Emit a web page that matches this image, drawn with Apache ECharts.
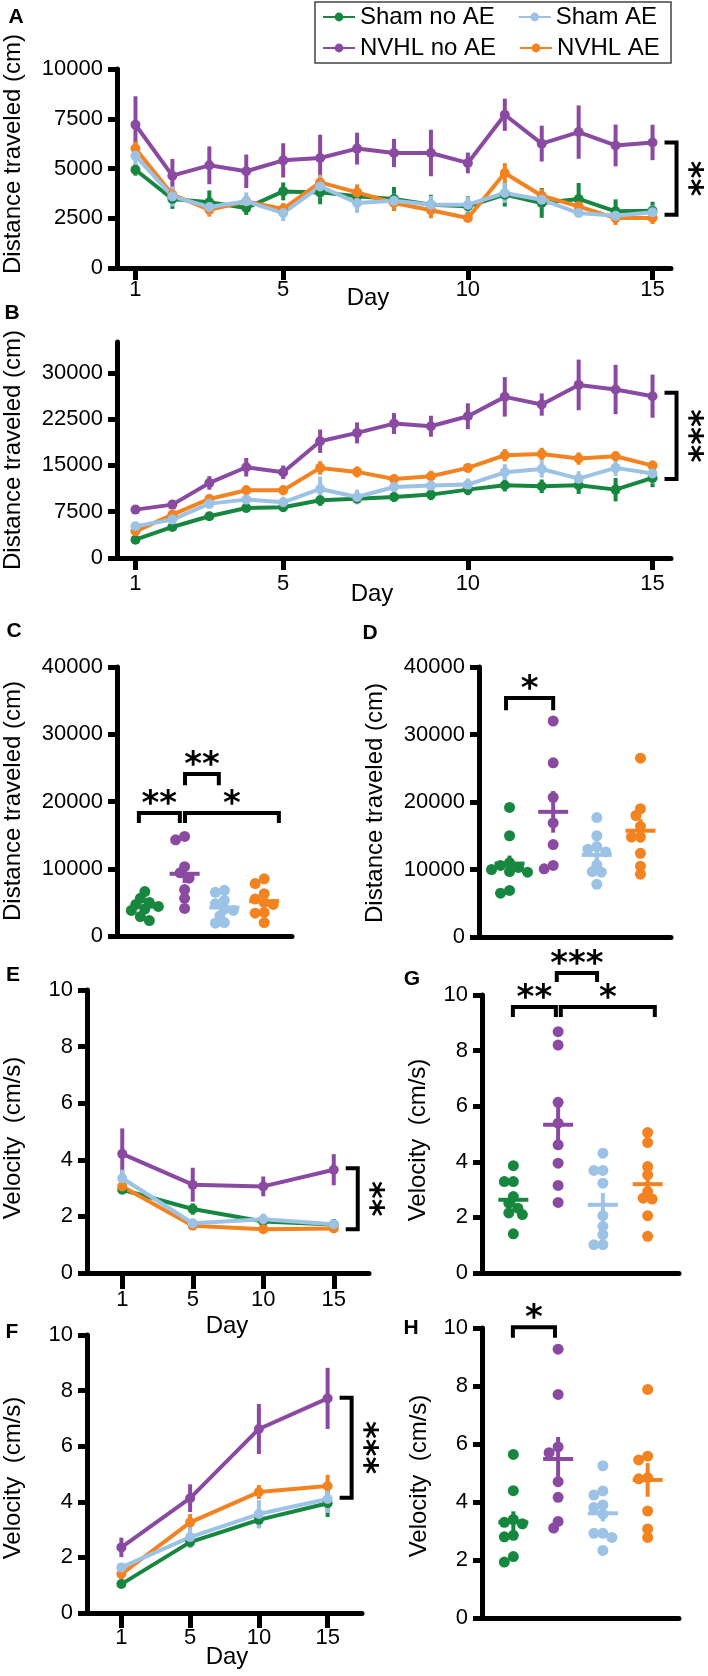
<!DOCTYPE html>
<html><head><meta charset="utf-8">
<script src="https://cdn.jsdelivr.net/npm/echarts@6/dist/echarts.min.js"></script>
<style>html,body{margin:0;padding:0;background:#fff}#c{width:708px;height:1676px}</style>
</head><body><div id="c"></div>
<script>
// ---------------- DATA ----------------
const groupNames = ['Sham no AE', 'NVHL no AE', 'Sham AE', 'NVHL AE'];
const days15 = ['1','2','3','4','5','6','7','8','9','10','11','12','13','14','15'];
const days4 = ['1','5','10','15'];
const dayTicks15 = ['1','5','10','15'];
const ticksB = [0, 7500, 15000, 22500, 30000];

// Panel A: distance per day (cm), mean and SEM
const aShamNoAE    = [4940,3470,3300,3015,3850,3800,3600,3470,3180,3100,3685,3270,3470,2850,2880];
const aShamNoAEErr = [300,500,600,350,450,600,500,600,500,500,600,750,800,600,450];
const aNvhlNoAE    = [7200,4640,5160,4860,5410,5530,6000,5780,5780,5280,7700,6250,6830,6160,6310];
const aNvhlNoAEErr = [1430,840,950,840,860,1170,800,710,1170,520,810,900,1340,1050,890];
const aShamAE      = [5640,3600,3065,3350,2760,4100,3270,3380,3180,3180,3770,3430,2760,2630,2800];
const aShamAEErr   = [600,500,400,450,400,550,500,350,450,400,500,400,200,250,350];
const aNvhlAE      = [6000,3685,2930,3350,2965,4300,3800,3270,2900,2510,4770,3630,3100,2510,2510];
const aNvhlAEErr   = [350,300,350,300,300,400,400,400,400,200,500,350,350,350,300];

// Panel B: cumulative distance (cm)
const bShamNoAE    = [2970,5030,6760,8110,8220,9350,9620,9890,10270,11080,11780,11620,11780,11080,12970];
const bShamNoAEErr = [500,500,600,700,700,900,800,800,900,900,1000,1100,1400,1900,1500];
const bNvhlNoAE    = [7840,8650,12160,14700,13890,18920,20270,21780,21350,22970,26110,24860,28050,27300,26220];
const bNvhlNoAEErr = [600,700,1100,1500,1100,1900,1700,1700,1700,2100,3200,1800,4100,4000,3500];
const bShamAE      = [5140,6220,8810,9460,9030,11190,9890,11510,11730,11890,13890,14430,12860,14600,13680];
const bShamAEErr   = [500,600,800,900,900,2000,1200,1100,1200,1000,1300,1400,1200,1300,1600];
const bNvhlAE      = [4320,7030,9570,10970,10970,14600,13950,12810,13240,14600,16650,16860,16110,16490,14970];
const bNvhlAEErr   = [600,600,700,800,800,1100,900,700,900,700,1000,1000,1000,800,800];

// Panel C: individual distance (cm)
const cShamNoAE = [6600,5600,5000,4700,4400,4000,3800,2900,2300];
const cNvhlNoAE = [14800,14300,10300,9400,8600,6900,5600,4100];
const cShamAE   = [6800,6500,5300,4800,4000,3800,3000,2000,1900];
const cNvhlAE   = [8500,7800,6300,5500,5000,4700,3500,3400,2000];

// Panel D
const dShamNoAE = [19200,15000,11000,10600,10300,10000,9700,9600,6900,6500];
const dNvhlNoAE = [32000,25800,20700,16900,13700,10600,10100];
const dShamAE   = [17700,15000,13400,13000,12600,10700,9700,9600,7800];
const dNvhlAE   = [26500,19000,18000,16400,14800,14800,12400,10500,9300];

// Panel E: velocity (cm/s)
const eShamNoAE = [2.94,2.26,1.82,1.71], eShamNoAEErr = [0.15,0.2,0.15,0.2];
const eNvhlNoAE = [4.21,3.12,3.06,3.65], eNvhlNoAEErr = [0.9,0.6,0.35,0.55];
const eShamAE   = [3.35,1.76,1.90,1.72], eShamAEErr   = [0.3,0.15,0.2,0.15];
const eNvhlAE   = [3.06,1.67,1.55,1.57], eNvhlAEErr   = [0.2,0.1,0.1,0.15];

// Panel F
const fShamNoAE = [1.04,2.55,3.35,3.95], fShamNoAEErr = [0.1,0.2,0.3,0.5];
const fNvhlNoAE = [2.36,4.13,6.62,7.72], fNvhlNoAEErr = [0.35,0.5,0.9,1.1];
const fShamAE   = [1.64,2.73,3.56,4.10], fShamAEErr   = [0.15,0.4,0.5,0.5];
const fNvhlAE   = [1.40,3.26,4.35,4.57], fNvhlAEErr   = [0.2,0.3,0.25,0.4];

// Panel G
const gShamNoAE = [3.86,3.29,3.29,2.75,2.51,2.33,2.16,2.10,1.41];
const gNvhlNoAE = [8.68,8.2,6.14,5.39,4.61,3.95,3.15,2.54];
const gShamAE   = [4.31,3.69,3.69,3.23,2.06,1.68,1.38,1.02,1.02];
const gNvhlAE   = [5.05,4.69,3.83,3.53,2.93,2.69,2.66,2.06,1.32];

// Panel H
const hShamNoAE = [5.64,4.39,3.4,3.3,3.25,2.85,2.8,2.12,1.93];
const hNvhlNoAE = [9.27,7.71,5.9,5.7,4.7,4.16,3.33,3.1];
const hShamAE   = [5.25,4.38,4.24,3.9,3.81,3.58,2.92,2.92,2.78,2.33];
const hNvhlAE   = [7.88,5.58,5.45,4.84,4.8,3.69,3.07,2.78];

// Significance annotations
const sigA = {top: 6310, bottom: 2680, text: '**'};
const sigB = {top: 26760, bottom: 12810, text: '***'};
const sigE = {top: 3.7, bottom: 1.55, text: '**'};
const sigF = {top: 7.74, bottom: 4.15, text: '***'};
const sigC = [{x1:0.85,x2:1.88,top:18300,leg:16800,text:'**'},{x1:2.01,x2:4.37,top:18300,leg:16800,text:'*'},{x1:2.01,x2:2.86,top:24100,leg:22400,text:'**'}];
const sigD = [{x1:0.92,x2:2.0,top:35400,leg:33600,text:'*'}];
const sigG = [{x1:0.99,x2:1.95,top:9.57,leg:9.21,text:'**'},{x1:2.06,x2:4.16,top:9.57,leg:9.21,text:'*'},{x1:1.97,x2:2.87,top:10.79,leg:10.47,text:'***'}];
const sigH = [{x1:0.99,x2:1.93,top:10.03,leg:9.66,text:'*'}];

// ---------------- STYLE / LAYOUT ----------------
const FONT = '"Liberation Sans", Arial, Helvetica, sans-serif';
const AST_FONT = '"DejaVu Sans", "Liberation Sans", sans-serif';
const COLOR = {'Sham no AE':'#17873f','NVHL no AE':'#8b4aa1','Sham AE':'#9cc2e5','NVHL AE':'#f38320'};

const grid = [
  {left:117, top:69,   width:554, height:199}, // A
  {left:117, top:342,  width:554, height:216}, // B
  {left:117, top:667,  width:175, height:269}, // C
  {left:479, top:667,  width:192, height:270}, // D
  {left:87,  top:990,  width:282, height:283}, // E
  {left:482, top:995,  width:197, height:278}, // G
  {left:87,  top:1335, width:275, height:278}, // F
  {left:482, top:1328, width:197, height:290}  // H
];
const xAxis = [], yAxis = [], series = [], graphic = [];

function yAx(gi, min, max, interval, custom) {
  const ax = {type:'value', gridIndex:gi, min, max, interval, splitLine:{show:false},
    axisLine:{show:true, lineStyle:{color:'#000', width:5}},
    axisTick:{show:true, length:9, lineStyle:{color:'#000', width:5}},
    axisLabel:{color:'#000', fontSize:22, fontFamily:FONT, margin:14, formatter: v => String(v)}};
  if (custom) { delete ax.interval; ax.axisTick.customValues = custom; ax.axisLabel.customValues = custom; }
  return ax;
}
function xCat(gi, data, shown, tickLen, margin) {
  const f = (i) => shown.indexOf(data[i]) >= 0;
  return {type:'category', gridIndex:gi, data, boundaryGap:true,
    axisLine:{show:true, onZero:false, lineStyle:{color:'#000', width:5}},
    axisTick:{show:true, alignWithLabel:true, interval:f, length:tickLen, lineStyle:{color:'#000', width:5}},
    axisLabel:{interval:f, color:'#000', fontSize:22, fontFamily:FONT, margin}, splitLine:{show:false}};
}
function xDot(gi) {
  return {type:'value', gridIndex:gi, min:0.3, max:4.7, axisLine:{show:true, onZero:false, lineStyle:{color:'#000', width:5}},
    axisTick:{show:false}, axisLabel:{show:false}, splitLine:{show:false}};
}
function astText(x, y, text, rot) {
  return {type:'text', x, y, rotation: rot || 0, style:{text, fontSize:34, fontWeight:'bold', fontFamily:AST_FONT,
    align:'center', verticalAlign:'middle', textAlign:'center', textVerticalAlign:'middle', fill:'#000'}};
}

function linePanel(gi, sets, sig, lastIdx) {
  sets.forEach(([name, vals, errs]) => {
    series.push({type:'custom', xAxisIndex:gi, yAxisIndex:gi, silent:true, z:2, animation:false,
      data: vals.map((v,i) => [i, v, errs[i]]), encode:{x:0, y:1},
      renderItem: (p, api) => {
        const x = api.value(0), v = api.value(1), e = api.value(2);
        const a = api.coord([x, v - e]), b = api.coord([x, v + e]);
        return {type:'line', shape:{x1:a[0], y1:a[1], x2:b[0], y2:b[1]}, style:{stroke:COLOR[name], lineWidth:4}};
      }});
    series.push({type:'line', name, xAxisIndex:gi, yAxisIndex:gi, data:vals, symbol:'circle', symbolSize:10,
      lineStyle:{width:4, color:COLOR[name]}, itemStyle:{color:COLOR[name]}, z:2, animation:false});
  });
  series.push({type:'custom', xAxisIndex:gi, yAxisIndex:gi, silent:true, clip:false, z:5, animation:false,
    data:[[lastIdx, sig.top, sig.bottom]], encode:{x:0, y:[1,2]},
    renderItem: (p, api) => {
      const a = api.coord([api.value(0), api.value(1)]), b = api.coord([api.value(0), api.value(2)]);
      const x0 = a[0] + 12, xv = a[0] + 24;
      return {type:'group', children:[
        {type:'polyline', shape:{points:[[x0,a[1]],[xv,a[1]],[xv,b[1]],[x0,b[1]]]}, style:{stroke:'#000', lineWidth:4, fill:null}},
        astText(a[0] + 35, (a[1] + b[1]) / 2, sig.text, -Math.PI / 2)
      ]};
    }});
}

function swarm(values, pos, pxY, pxX) {
  const placed = [], out = new Array(values.length);
  const order = values.map((v, i) => i).sort((a, b) => values[b] - values[a]);
  const d = 7.5, step = 4.5;
  order.forEach(i => {
    const y = values[i] * pxY;
    for (let k = 0; k < 40; k++) {
      const off = k === 0 ? 0 : (k % 2 ? -1 : 1) * Math.ceil(k / 2) * step;
      if (placed.every(p => Math.hypot(p.x - off, p.y - y) >= d)) {
        placed.push({x:off, y}); out[i] = [pos + off / pxX, values[i]]; break;
      }
    }
  });
  return out;
}

function dotPanel(gi, sets, ymax, sig) {
  const g = grid[gi], pxY = g.height / ymax, pxX = g.width / 4.4;
  sets.forEach(([name, vals], k) => {
    const pos = k + 1;
    series.push({type:'scatter', name, xAxisIndex:gi, yAxisIndex:gi, data:swarm(vals, pos, pxY, pxX),
      symbolSize:11, itemStyle:{color:COLOR[name], opacity:1}, z:3, animation:false});
    const n = vals.length, mean = vals.reduce((s, v) => s + v, 0) / n;
    const sd = Math.sqrt(vals.reduce((s, v) => s + (v - mean) ** 2, 0) / (n - 1)), sem = sd / Math.sqrt(n);
    series.push({type:'custom', xAxisIndex:gi, yAxisIndex:gi, silent:true, z:4, animation:false,
      data:[[pos, mean, sem]], encode:{x:0, y:1},
      renderItem: (p, api) => {
        const x = api.value(0), m = api.value(1), s = api.value(2);
        const c = api.coord([x, m]), lo = api.coord([x, m - s]), hi = api.coord([x, m + s]);
        return {type:'group', children:[
          {type:'line', shape:{x1:c[0]-15, y1:c[1], x2:c[0]+15, y2:c[1]}, style:{stroke:COLOR[name], lineWidth:4}},
          {type:'line', shape:{x1:c[0], y1:lo[1], x2:c[0], y2:hi[1]}, style:{stroke:COLOR[name], lineWidth:4}}
        ]};
      }});
  });
  series.push({type:'custom', xAxisIndex:gi, yAxisIndex:gi, silent:true, clip:false, z:5, animation:false,
    data: sig.map(s => [s.x1, s.x2, s.top, s.leg]), encode:{x:[0,1], y:[2,3]},
    renderItem: (p, api) => {
      const s = sig[p.dataIndex];
      const a = api.coord([api.value(0), api.value(2)]), b = api.coord([api.value(1), api.value(2)]);
      const l = api.coord([api.value(0), api.value(3)]);
      return {type:'group', children:[
        {type:'polyline', shape:{points:[[a[0],l[1]],[a[0],a[1]],[b[0],b[1]],[b[0],l[1]]]}, style:{stroke:'#000', lineWidth:4, fill:null}},
        astText((a[0] + b[0]) / 2, a[1] - 8, s.text, 0)
      ]};
    }});
}

// Axes
xAxis.push(xCat(0, days15, dayTicks15, 12, 11)); yAxis.push(yAx(0, 0, 10000, 2500));
xAxis.push(xCat(1, days15, dayTicks15, 12, 15)); yAxis.push(yAx(1, 0, 35000, null, ticksB));
xAxis.push(xDot(2)); yAxis.push(yAx(2, 0, 40000, 10000));
xAxis.push(xDot(3)); yAxis.push(yAx(3, 0, 40000, 10000));
xAxis.push(xCat(4, days4, days4, 16, 16)); yAxis.push(yAx(4, 0, 10, 2));
xAxis.push(xDot(5)); yAxis.push(yAx(5, 0, 10, 2));
xAxis.push(xCat(6, days4, days4, 15, 14)); yAxis.push(yAx(6, 0, 10, 2));
xAxis.push(xDot(7)); yAxis.push(yAx(7, 0, 10, 2));

// Series
linePanel(0, [['Sham no AE', aShamNoAE, aShamNoAEErr], ['NVHL no AE', aNvhlNoAE, aNvhlNoAEErr], ['NVHL AE', aNvhlAE, aNvhlAEErr], ['Sham AE', aShamAE, aShamAEErr]], sigA, 14);
linePanel(1, [['Sham no AE', bShamNoAE, bShamNoAEErr], ['NVHL no AE', bNvhlNoAE, bNvhlNoAEErr], ['NVHL AE', bNvhlAE, bNvhlAEErr], ['Sham AE', bShamAE, bShamAEErr]], sigB, 14);
dotPanel(2, [['Sham no AE', cShamNoAE], ['NVHL no AE', cNvhlNoAE], ['Sham AE', cShamAE], ['NVHL AE', cNvhlAE]], 40000, sigC);
dotPanel(3, [['Sham no AE', dShamNoAE], ['NVHL no AE', dNvhlNoAE], ['Sham AE', dShamAE], ['NVHL AE', dNvhlAE]], 40000, sigD);
linePanel(4, [['Sham no AE', eShamNoAE, eShamNoAEErr], ['NVHL no AE', eNvhlNoAE, eNvhlNoAEErr], ['NVHL AE', eNvhlAE, eNvhlAEErr], ['Sham AE', eShamAE, eShamAEErr]], sigE, 3);
dotPanel(5, [['Sham no AE', gShamNoAE], ['NVHL no AE', gNvhlNoAE], ['Sham AE', gShamAE], ['NVHL AE', gNvhlAE]], 10, sigG);
linePanel(6, [['Sham no AE', fShamNoAE, fShamNoAEErr], ['NVHL no AE', fNvhlNoAE, fNvhlNoAEErr], ['NVHL AE', fNvhlAE, fNvhlAEErr], ['Sham AE', fShamAE, fShamAEErr]], sigF, 3);
dotPanel(7, [['Sham no AE', hShamNoAE], ['NVHL no AE', hNvhlNoAE], ['Sham AE', hShamAE], ['NVHL AE', hNvhlAE]], 10, sigH);

// Texts
function txt(x, y, text, size, weight, rot) {
  return {type:'text', x, y, rotation: rot || 0, style:{text, fontSize:size, fontWeight:weight || 'normal', fontFamily:FONT,
    align:'center', verticalAlign:'middle', textAlign:'center', textVerticalAlign:'middle', fill:'#000'}};
}
const R = Math.PI / 2;
graphic.push(
  txt(16, 17, 'A', 21, 'bold'), txt(12, 313, 'B', 21, 'bold'), txt(14, 631, 'C', 21, 'bold'), txt(370, 633, 'D', 21, 'bold'),
  txt(13, 975, 'E', 21, 'bold'), txt(412, 979, 'G', 21, 'bold'), txt(12, 1332, 'F', 21, 'bold'), txt(411, 1328, 'H', 21, 'bold'),
  txt(13, 154, 'Distance traveled (cm)', 24, 'normal', R), txt(13, 450, 'Distance traveled (cm)', 24, 'normal', R),
  txt(13, 801, 'Distance traveled (cm)', 24, 'normal', R), txt(375, 803, 'Distance traveled (cm)', 24, 'normal', R),
  txt(13, 1138, 'Velocity  (cm/s)', 24, 'normal', R), txt(418, 1140, 'Velocity  (cm/s)', 24, 'normal', R),
  txt(13, 1478, 'Velocity  (cm/s)', 24, 'normal', R), txt(419, 1476, 'Velocity  (cm/s)', 24, 'normal', R),
  txt(368, 298, 'Day', 24), txt(372, 594, 'Day', 24), txt(227, 1326, 'Day', 24), txt(227, 1657, 'Day', 24),
  {type:'rect', shape:{x:315, y:2, width:356, height:61}, style:{stroke:'#444', lineWidth:1.5, fill:'none'}}
);

const legendBase = {left:322, itemWidth:32, itemHeight:11, itemGap:23, selectedMode:false, padding:0,
  textStyle:{fontSize:24, fontFamily:FONT, color:'#000', lineHeight:24}};

const chart = echarts.init(document.getElementById('c'), null, {renderer:'canvas', width:708, height:1676});
chart.setOption({
  animation:false, backgroundColor:'#fff',
  legend:[Object.assign({}, legendBase, {top:5, data:['Sham no AE', 'Sham AE']}),
          Object.assign({}, legendBase, {top:36, data:['NVHL no AE', 'NVHL AE']})],
  grid, xAxis, yAxis, series, graphic
});
</script></body></html>
